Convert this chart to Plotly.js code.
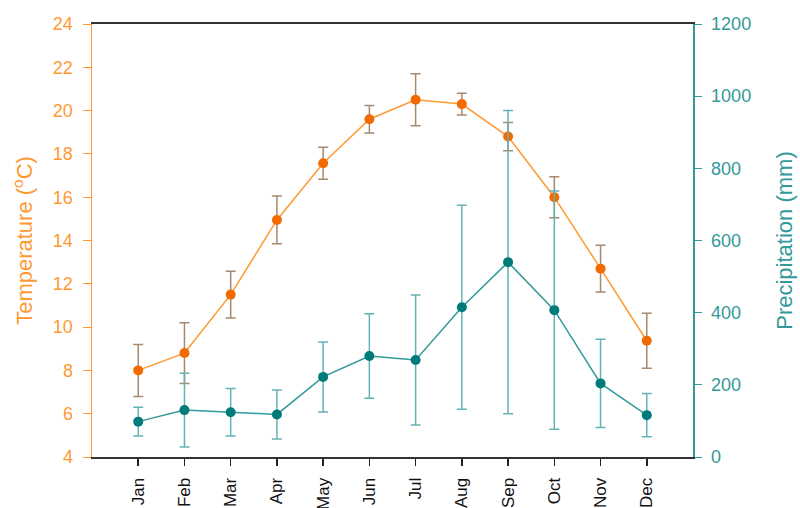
<!DOCTYPE html>
<html><head><meta charset="utf-8">
<script src="https://cdn.plot.ly/plotly-3.0.1.min.js"></script>
<style>html,body{margin:0;padding:0;background:#fff}#chart{width:800px;height:508px}</style>
</head><body><div id="chart"></div>
<script>
const months = ["Jan","Feb","Mar","Apr","May","Jun","Jul","Aug","Sep","Oct","Nov","Dec"];
const monthPos = [1,2,3,4,5,6,7,8,9,10,11,12];
const tempMean = [8.0, 8.8, 11.5, 14.95, 17.57, 19.6, 20.5, 20.3, 18.8, 16.0, 12.7, 9.37];
const tempErr  = [1.2, 1.4, 1.08, 1.1, 0.74, 0.63, 1.2, 0.5, 0.65, 0.95, 1.08, 1.27];
const precipMean = [98, 130, 124, 118, 222, 280, 269, 415, 540, 407, 204, 116];
const precipErr  = [40, 102, 66, 68, 97, 117, 180, 283, 420, 330, 122, 60];
const yTempTicks = [4,6,8,10,12,14,16,18,20,22,24];
const yPrecTicks = [0,200,400,600,800,1000,1200];

const orange = '#ff9933', teal = '#339999';
const traces = [
  {x: monthPos, y: precipMean, yaxis: 'y2', type: 'scatter', mode: 'lines+markers',
   line: {color: teal, width: 1.5}, marker: {color: '#007b7b', size: 10},
   error_y: {type: 'data', array: precipErr, visible: true, color: '#66b3b3', thickness: 1.5, width: 5}},
  {x: monthPos, y: tempMean, type: 'scatter', mode: 'lines+markers',
   line: {color: orange, width: 1.5}, marker: {color: '#f26b00', size: 10},
   error_y: {type: 'data', array: tempErr, visible: true, color: '#a58a6e', thickness: 1.5, width: 5}}
];
const layout = {
  width: 800, height: 508,
  margin: {l: 92, r: 107, t: 24, b: 51},
  showlegend: false,
  paper_bgcolor: '#fff', plot_bgcolor: '#fff',
  font: {family: 'Liberation Sans, Arial, sans-serif'},
  xaxis: {range: [0, 13], tickvals: monthPos, ticktext: months, tickangle: -90,
    showgrid: false, zeroline: false, showline: true, mirror: true, linecolor: '#333', linewidth: 2,
    ticks: 'outside', ticklen: 7, tickwidth: 1.5, tickcolor: '#222', ticklabelstandoff: 5,
    tickfont: {size: 17, color: '#111'}},
  yaxis: {range: [4, 24], tickvals: yTempTicks, showgrid: false, zeroline: false,
    showline: true, linecolor: orange, linewidth: 1.5, ticks: 'outside', ticklen: 8, tickcolor: orange,
    ticklabelstandoff: 6, tickfont: {size: 18, color: orange},
    title: {text: 'Temperature (<sup>o</sup>C)', font: {size: 22, color: orange}, standoff: 14}},
  yaxis2: {range: [0, 1200], tickvals: yPrecTicks, overlaying: 'y', side: 'right', showgrid: false, zeroline: false,
    showline: true, linecolor: teal, linewidth: 1.5, ticks: 'outside', ticklen: 7, tickcolor: teal,
    ticklabelstandoff: 6, tickfont: {size: 18, color: teal},
    title: {text: 'Precipitation (mm)', font: {size: 22, color: teal}, standoff: 26}}
};
Plotly.newPlot('chart', traces, layout, {displayModeBar: false, staticPlot: true});
</script></body></html>
